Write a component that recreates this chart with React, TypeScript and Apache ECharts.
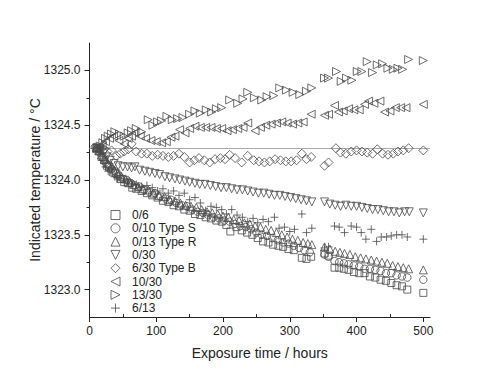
import React, { useEffect, useRef } from "react";
import * as echarts from "echarts";

type Pt = [number, number];

// Exposure time (hours), indicated temperature (°C)
const s0_6: Pt[] = [
  [10, 1324.29], [14, 1324.26], [18, 1324.21], [22, 1324.18], [26, 1324.13], [30, 1324.12], [35, 1324.07], [40, 1324.06],
  [46, 1324.01], [52, 1323.98], [58, 1323.97], [64, 1323.93], [70, 1323.92], [78, 1323.90], [86, 1323.88], [94, 1323.86],
  [102, 1323.84], [110, 1323.81], [118, 1323.80], [126, 1323.77], [134, 1323.76], [142, 1323.73], [150, 1323.72], [158, 1323.69],
  [166, 1323.68], [174, 1323.66], [182, 1323.65], [190, 1323.63], [198, 1323.62], [205, 1323.59], [211, 1323.53], [220, 1323.57],
  [228, 1323.54], [236, 1323.52], [244, 1323.50], [252, 1323.47], [260, 1323.44], [268, 1323.43], [275, 1323.41], [283, 1323.40],
  [290, 1323.39], [298, 1323.37], [306, 1323.36], [318, 1323.29], [325, 1323.28], [332, 1323.30], [352, 1323.33], [358, 1323.31],
  [367, 1323.20], [374, 1323.20], [381, 1323.19], [388, 1323.18], [396, 1323.16], [404, 1323.15], [412, 1323.15], [420, 1323.12],
  [428, 1323.11], [436, 1323.09], [444, 1323.08], [452, 1323.06], [460, 1323.04], [468, 1323.03], [476, 1323.00], [500, 1322.97],
];
const s0_10: Pt[] = [
  [8, 1324.30], [12, 1324.29], [16, 1324.25], [20, 1324.20], [24, 1324.16], [28, 1324.14], [33, 1324.10], [38, 1324.08],
  [44, 1324.04], [50, 1324.01], [56, 1324.00], [62, 1323.97], [68, 1323.95], [75, 1323.94], [82, 1323.91], [90, 1323.89],
  [98, 1323.88], [106, 1323.85], [114, 1323.83], [122, 1323.82], [130, 1323.79], [138, 1323.77], [146, 1323.76], [154, 1323.73],
  [162, 1323.71], [170, 1323.70], [178, 1323.68], [186, 1323.66], [194, 1323.65], [202, 1323.63], [210, 1323.62], [218, 1323.60],
  [226, 1323.58], [234, 1323.57], [242, 1323.55], [250, 1323.52], [258, 1323.50], [266, 1323.49], [274, 1323.47], [282, 1323.45],
  [290, 1323.43], [298, 1323.42], [306, 1323.40], [314, 1323.38], [322, 1323.36], [330, 1323.34], [352, 1323.32], [358, 1323.30],
  [367, 1323.26], [374, 1323.25], [381, 1323.24], [388, 1323.23], [396, 1323.22], [404, 1323.21], [412, 1323.19], [420, 1323.19],
  [428, 1323.18], [436, 1323.17], [444, 1323.15], [452, 1323.15], [460, 1323.13], [468, 1323.12], [476, 1323.11], [500, 1323.09],
];
const s0_13: Pt[] = [
  [10, 1324.29], [14, 1324.27], [18, 1324.23], [22, 1324.19], [27, 1324.15], [32, 1324.11], [37, 1324.09], [42, 1324.06],
  [48, 1324.03], [54, 1324.01], [60, 1323.98], [66, 1323.96], [73, 1323.94], [80, 1323.92], [88, 1323.91], [96, 1323.88],
  [104, 1323.86], [112, 1323.85], [120, 1323.82], [128, 1323.81], [136, 1323.79], [144, 1323.77], [152, 1323.76], [160, 1323.75],
  [168, 1323.73], [176, 1323.71], [184, 1323.70], [192, 1323.69], [200, 1323.67], [208, 1323.66], [216, 1323.64], [224, 1323.63],
  [232, 1323.61], [240, 1323.60], [248, 1323.58], [256, 1323.57], [264, 1323.55], [272, 1323.54], [280, 1323.52], [288, 1323.50],
  [296, 1323.48], [304, 1323.46], [312, 1323.45], [320, 1323.43], [327, 1323.42], [333, 1323.41], [352, 1323.39], [360, 1323.37],
  [368, 1323.35], [375, 1323.34], [382, 1323.33], [390, 1323.32], [398, 1323.30], [406, 1323.29], [414, 1323.28], [422, 1323.27],
  [430, 1323.26], [438, 1323.25], [446, 1323.24], [454, 1323.22], [462, 1323.21], [470, 1323.20], [478, 1323.19], [500, 1323.18],
];
const s0_30: Pt[] = [
  [12, 1324.29], [16, 1324.27], [21, 1324.24], [26, 1324.21], [31, 1324.18], [37, 1324.15], [43, 1324.13], [50, 1324.12],
  [57, 1324.12], [63, 1324.11], [68, 1324.12], [75, 1324.09], [83, 1324.08], [90, 1324.07], [98, 1324.06], [105, 1324.05],
  [113, 1324.03], [120, 1324.02], [128, 1324.01], [135, 1324.00], [143, 1323.99], [150, 1323.98], [158, 1323.97], [165, 1323.96],
  [173, 1323.96], [181, 1323.95], [189, 1323.94], [197, 1323.93], [205, 1323.93], [213, 1323.92], [221, 1323.91], [229, 1323.91],
  [237, 1323.90], [245, 1323.89], [253, 1323.88], [261, 1323.88], [269, 1323.87], [277, 1323.86], [285, 1323.86], [293, 1323.85],
  [301, 1323.84], [309, 1323.83], [317, 1323.82], [325, 1323.81], [333, 1323.80], [352, 1323.80], [360, 1323.78], [368, 1323.77],
  [376, 1323.76], [384, 1323.77], [392, 1323.76], [400, 1323.76], [408, 1323.75], [416, 1323.74], [424, 1323.73], [432, 1323.73],
  [440, 1323.72], [448, 1323.71], [456, 1323.71], [464, 1323.70], [472, 1323.71], [479, 1323.71], [500, 1323.70],
];
const s6_30: Pt[] = [
  [12, 1324.29], [17, 1324.30], [22, 1324.28], [27, 1324.26], [33, 1324.27], [40, 1324.22], [46, 1324.24], [52, 1324.26],
  [58, 1324.28], [63, 1324.33], [70, 1324.26], [78, 1324.24], [86, 1324.24], [94, 1324.22], [102, 1324.23], [110, 1324.22],
  [118, 1324.21], [126, 1324.22], [134, 1324.24], [142, 1324.21], [150, 1324.16], [157, 1324.18], [164, 1324.20], [172, 1324.18],
  [180, 1324.16], [188, 1324.19], [196, 1324.20], [203, 1324.19], [210, 1324.23], [218, 1324.20], [228, 1324.16], [237, 1324.22],
  [246, 1324.18], [254, 1324.17], [262, 1324.16], [270, 1324.17], [278, 1324.19], [286, 1324.18], [294, 1324.17], [302, 1324.17],
  [310, 1324.18], [318, 1324.24], [325, 1324.19], [332, 1324.21], [352, 1324.13], [358, 1324.16], [369, 1324.29], [376, 1324.25],
  [384, 1324.24], [392, 1324.26], [400, 1324.27], [408, 1324.26], [416, 1324.25], [424, 1324.24], [431, 1324.28], [439, 1324.24],
  [447, 1324.23], [455, 1324.24], [462, 1324.26], [470, 1324.27], [478, 1324.29], [500, 1324.27],
];
const s10_30: Pt[] = [
  [14, 1324.30], [19, 1324.32], [24, 1324.35], [30, 1324.38], [36, 1324.40], [44, 1324.36], [52, 1324.33], [58, 1324.38],
  [63, 1324.40], [68, 1324.43], [76, 1324.40], [84, 1324.38], [92, 1324.36], [100, 1324.35], [108, 1324.34], [115, 1324.35],
  [122, 1324.39], [128, 1324.40], [135, 1324.46], [143, 1324.43], [150, 1324.47], [158, 1324.49], [166, 1324.48], [174, 1324.48],
  [182, 1324.48], [190, 1324.47], [198, 1324.47], [206, 1324.45], [214, 1324.46], [222, 1324.47], [230, 1324.48], [237, 1324.52],
  [248, 1324.45], [256, 1324.48], [264, 1324.50], [272, 1324.51], [280, 1324.52], [288, 1324.53], [296, 1324.52], [304, 1324.51],
  [312, 1324.52], [320, 1324.53], [332, 1324.60], [352, 1324.59], [358, 1324.60], [367, 1324.68], [373, 1324.62], [380, 1324.63],
  [388, 1324.65], [396, 1324.64], [404, 1324.64], [412, 1324.69], [418, 1324.72], [426, 1324.70], [435, 1324.72], [442, 1324.62],
  [450, 1324.63], [458, 1324.66], [466, 1324.66], [474, 1324.66], [500, 1324.69],
];
const s13_30: Pt[] = [
  [12, 1324.29], [16, 1324.31], [20, 1324.34], [24, 1324.38], [28, 1324.40], [33, 1324.42], [38, 1324.44], [45, 1324.42],
  [52, 1324.40], [58, 1324.43], [63, 1324.45], [70, 1324.47], [78, 1324.44], [88, 1324.55], [95, 1324.50], [102, 1324.53],
  [108, 1324.54], [116, 1324.58], [124, 1324.55], [132, 1324.56], [140, 1324.57], [150, 1324.60], [158, 1324.63], [166, 1324.61],
  [175, 1324.64], [183, 1324.62], [190, 1324.65], [198, 1324.66], [210, 1324.73], [222, 1324.70], [230, 1324.74], [237, 1324.80],
  [247, 1324.75], [258, 1324.73], [266, 1324.76], [276, 1324.77], [285, 1324.84], [295, 1324.82], [305, 1324.80], [315, 1324.78],
  [325, 1324.81], [333, 1324.84], [352, 1324.93], [358, 1324.93], [370, 1324.99], [377, 1324.90], [385, 1324.93], [393, 1324.91],
  [401, 1324.99], [408, 1324.99], [416, 1325.08], [424, 1324.98], [431, 1325.05], [439, 1325.06], [447, 1325.02], [455, 1325.01],
  [462, 1325.02], [469, 1325.01], [478, 1325.10], [500, 1325.09],
];
const s6_13: Pt[] = [
  [12, 1324.29], [16, 1324.25], [20, 1324.18], [24, 1324.12], [28, 1324.08], [33, 1324.10], [38, 1324.03], [42, 1324.01],
  [47, 1324.04], [52, 1323.98], [58, 1323.99], [64, 1323.97], [70, 1323.96], [78, 1323.94], [86, 1323.95], [94, 1323.93],
  [102, 1323.90], [110, 1323.92], [118, 1323.88], [126, 1323.90], [134, 1323.86], [142, 1323.88], [150, 1323.82], [158, 1323.84],
  [166, 1323.79], [174, 1323.72], [182, 1323.76], [190, 1323.75], [198, 1323.73], [205, 1323.69], [213, 1323.73], [221, 1323.68],
  [229, 1323.66], [237, 1323.62], [245, 1323.65], [252, 1323.61], [260, 1323.64], [268, 1323.62], [277, 1323.66], [284, 1323.56],
  [292, 1323.57], [300, 1323.53], [307, 1323.55], [318, 1323.69], [325, 1323.52], [333, 1323.56], [352, 1323.38], [358, 1323.39],
  [367, 1323.58], [374, 1323.57], [382, 1323.52], [392, 1323.58], [400, 1323.57], [407, 1323.52], [414, 1323.46], [422, 1323.55],
  [430, 1323.44], [437, 1323.48], [445, 1323.48], [452, 1323.49], [460, 1323.50], [468, 1323.50], [476, 1323.48], [500, 1323.46],
];

const seriesNames = ["0/6", "0/10 Type S", "0/13 Type R", "0/30", "6/30 Type B", "10/30", "13/30", "6/13"];
const seriesData = [s0_6, s0_10, s0_13, s0_30, s6_30, s10_30, s13_30, s6_13];
const referenceTemp = 1324.29;

const xTicks = [0, 100, 200, 300, 400, 500];
const xMinorTicks = [50, 150, 250, 350, 450];
const yTicks = [1323.0, 1323.5, 1324.0, 1324.5, 1325.0];
const yMinorTicks = [1323.25, 1323.75, 1324.25, 1324.75];

const SQUARE = "path://M0,0L10,0L10,10L0,10Z";
const TRI_UP = "path://M5,0L10,10L0,10Z";
const TRI_DOWN = "path://M0,0L10,0L5,10Z";
const DIAMOND = "path://M5,0L10,5L5,10L0,5Z";
const TRI_LEFT = "path://M10,0L10,10L0,5Z";
const TRI_RIGHT = "path://M0,0L10,5L0,10Z";
const PLUS = "path://M0,5L10,5M5,0L5,10";
const symbols = [SQUARE, "circle", TRI_UP, TRI_DOWN, DIAMOND, TRI_LEFT, TRI_RIGHT, PLUS];
const sizes = [7, 7.5, 8, 8, 9, 8, 8, 8];

const FONT = "'Liberation Sans', Arial, sans-serif";
const INK = "#222";
const MARK = "#4a4a4a";

export default function App() {
  const ref = useRef<HTMLDivElement>(null);
  useEffect(() => {
    if (!ref.current) return;
    const chart = echarts.init(ref.current, undefined, { renderer: "svg" });
    const series: any[] = seriesNames.map((name, i) => ({
      name,
      type: "scatter",
      data: seriesData[i],
      symbol: symbols[i],
      symbolSize: sizes[i],
      itemStyle: { color: "rgba(0,0,0,0)", borderColor: MARK, borderWidth: 1 },
      z: 3,
    }));
    series[4].markLine = {
      silent: true,
      symbol: "none",
      label: { show: false },
      lineStyle: { color: "#aaa", width: 1, type: "solid" },
      data: [{ yAxis: referenceTemp }],
      z: 1,
    };
    chart.setOption({
      animation: false,
      textStyle: { fontFamily: FONT },
      grid: { left: 89.5, right: 70, top: 43, bottom: 64, containLabel: false },
      legend: {
        orient: "vertical",
        left: 105.5,
        top: 204,
        itemWidth: 9,
        itemHeight: 9,
        itemGap: 1.3,
        itemStyle: { borderWidth: 1, borderColor: MARK, color: "rgba(0,0,0,0)" },
        formatter: "{gap|}{name}",
        textStyle: {
          fontSize: 12,
          color: INK,
          fontFamily: FONT,
          rich: { gap: { width: 7, fontSize: 12 } },
        },
        data: seriesNames.map((name, i) => ({ name, icon: symbols[i] })),
      },
      xAxis: [
        {
          type: "value",
          min: 0,
          max: 510,
          interval: 100,
          position: "bottom",
          name: "Exposure time / hours",
          nameLocation: "middle",
          nameGap: 29,
          nameMoveOverlap: false,
          nameTextStyle: { fontSize: 14, color: INK, fontFamily: FONT },
          axisLine: { show: true, lineStyle: { color: INK, width: 1 } },
          axisTick: { show: true, length: 5, customValues: xTicks, lineStyle: { color: INK } },
          axisLabel: { fontSize: 12, color: INK, margin: 8, customValues: xTicks, fontFamily: FONT },
          splitLine: { show: false },
        },
        {
          type: "value",
          min: 0,
          max: 510,
          position: "bottom",
          axisLine: { show: false },
          axisTick: { show: true, inside: true, length: 3, customValues: xMinorTicks, lineStyle: { color: INK } },
          axisLabel: { show: false },
          splitLine: { show: false },
        },
      ],
      yAxis: [
        {
          type: "value",
          min: 1322.75,
          max: 1325.25,
          position: "left",
          name: "Indicated temperature / °C",
          nameLocation: "middle",
          nameGap: 48,
          nameMoveOverlap: false,
          nameTextStyle: { fontSize: 14, color: INK, fontFamily: FONT },
          axisLine: { show: true, lineStyle: { color: INK, width: 1 } },
          axisTick: { show: true, length: 5, customValues: yTicks, lineStyle: { color: INK } },
          axisLabel: {
            fontSize: 12,
            color: INK,
            margin: 9,
            customValues: yTicks,
            fontFamily: FONT,
            formatter: (v: number) => v.toFixed(1),
          },
          splitLine: { show: false },
        },
        {
          type: "value",
          min: 1322.75,
          max: 1325.25,
          position: "left",
          axisLine: { show: false },
          axisTick: { show: true, length: 3, customValues: yMinorTicks, lineStyle: { color: INK } },
          axisLabel: { show: false },
          splitLine: { show: false },
        },
      ],
      series,
    });
    return () => chart.dispose();
  }, []);
  return <div ref={ref} style={{ position: "fixed", left: 0, top: 0, width: 500, height: 381, background: "#fff" }} />;
}
